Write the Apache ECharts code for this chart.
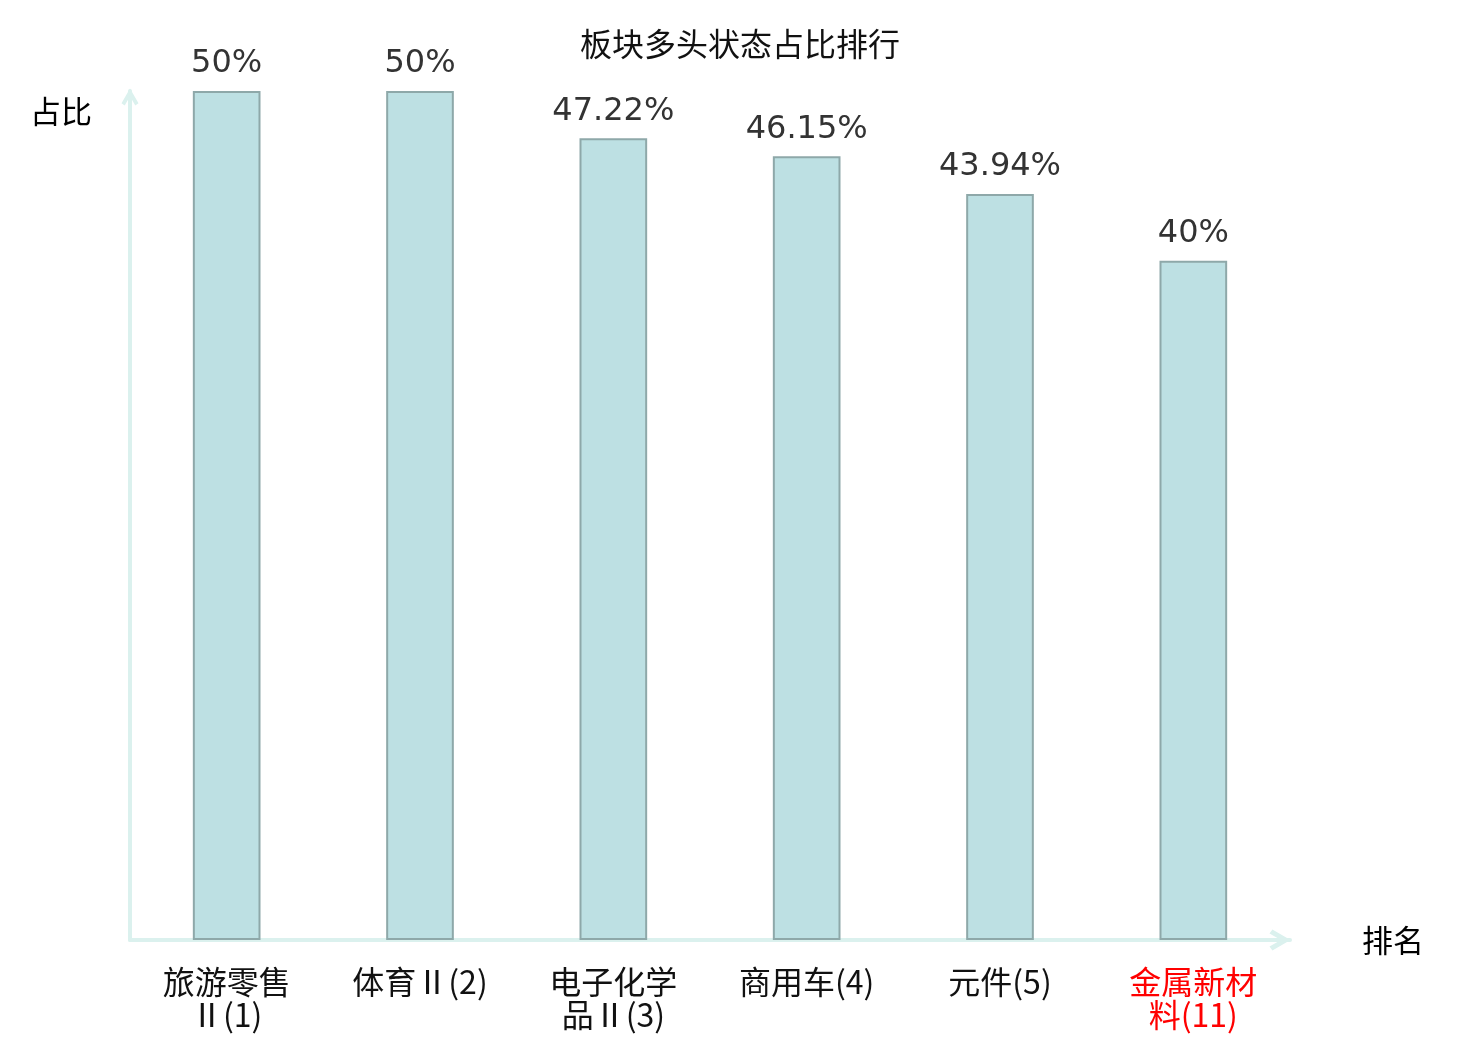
<!DOCTYPE html>
<html>
<head>
<meta charset="utf-8">
<script src="https://cdn.jsdelivr.net/npm/echarts@6/dist/echarts.min.js"></script>
<style>
  html, body { margin: 0; padding: 0; background: #fff; }
  #chart { width: 1480px; height: 1040px; }
</style>
</head>
<body>
<div id="chart"></div>
<script>
const titleText = '板块多头状态占比排行';
const categories = ['旅游零售Ⅱ(1)', '体育Ⅱ(2)', '电子化学品Ⅱ(3)', '商用车(4)', '元件(5)', '金属新材料(11)'];
const highlightCategory = '金属新材料(11)';
const values = [50, 50, 47.22, 46.15, 43.94, 40];
const yName = '占比';
const xName = '排名';

const chevron = 'path://M9,0 L18,15.5 L14.6,18 L9,8.2 L3.4,18 L0,15.5 Z';
const axisColor = '#dbf1ee';
const cjk = '"DejaVu Sans", "Noto Sans CJK SC", sans-serif';
const cjkLabel = '"Noto Sans CJK SC", sans-serif';

const chart = echarts.init(document.getElementById('chart'));
chart.setOption({
  backgroundColor: '#ffffff',
  animation: false,
  title: {
    text: titleText,
    left: 'center',
    top: 23,
    textStyle: { fontSize: 32, fontWeight: 'normal', color: '#111', fontFamily: cjkLabel }
  },
  grid: { left: 130, right: 190, top: 91, bottom: 100, containLabel: false },
  xAxis: {
    type: 'category',
    data: categories.map(c => c === highlightCategory ? { value: c, textStyle: { color: '#ff0000' } } : c),
    name: xName,
    nameLocation: 'end',
    nameGap: 72,
    nameTextStyle: { fontSize: 31, color: '#000', fontFamily: cjkLabel },
    axisLine: {
      show: true,
      symbol: ['none', chevron],
      symbolSize: [21, 21],
      symbolOffset: [0, -10],
      lineStyle: { color: axisColor, width: 4 }
    },
    axisTick: { show: false },
    axisLabel: {
      interval: 0,
      margin: 25,
      fontSize: 32,
      lineHeight: 33,
      color: '#111',
      fontFamily: cjkLabel,
      width: 141,
      overflow: 'break',
      align: 'center'
    },
    splitLine: { show: false }
  },
  yAxis: {
    type: 'value',
    min: 0,
    max: 50,
    name: yName,
    nameLocation: 'end',
    nameGap: -20,
    nameTextStyle: { fontSize: 31, color: '#000', align: 'right', verticalAlign: 'middle', padding: [0, 38, 0, 0], fontFamily: cjkLabel },
    axisLine: {
      show: true,
      symbol: ['none', chevron],
      symbolSize: [17, 17],
      symbolOffset: [0, -6],
      lineStyle: { color: axisColor, width: 4 }
    },
    axisTick: { show: false },
    axisLabel: { show: false },
    splitLine: { show: false }
  },
  series: [{
    type: 'bar',
    data: values,
    barWidth: '35%',
    itemStyle: { color: '#bde0e3', borderColor: '#8ea8a9', borderWidth: 2 },
    label: {
      show: true,
      position: 'top',
      distance: 11,
      formatter: '{c}%',
      fontSize: 32,
      color: '#333',
      fontFamily: cjk
    }
  }]
});
</script>
</body>
</html>
